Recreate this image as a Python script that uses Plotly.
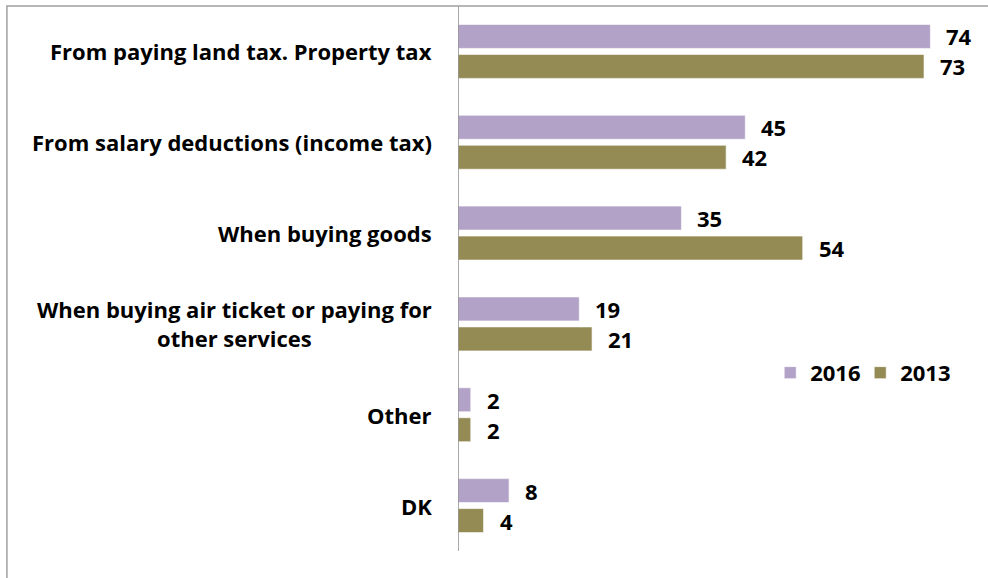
import plotly.graph_objects as go

categories = [
    "From paying land tax. Property tax",
    "From salary deductions (income tax)",
    "When buying goods",
    "When buying air ticket or paying for<br>other services",
    "Other",
    "DK",
]
values_2016 = [74, 45, 35, 19, 2, 8]
values_2013 = [73, 42, 54, 21, 2, 4]
series_names = ["2016", "2013"]

color_2016 = "#B3A2C7"
color_2013 = "#948A54"
font_family = "'Open Sans', sans-serif"
label_size = 22

W, H = 988, 578
left, top, bottom = 457.5, 5.5, 26.5
plot_w = W - left
plot_h = H - top - bottom

y_idx = list(range(len(categories)))

fig = go.Figure()
for name, vals, col in [(series_names[0], values_2016, color_2016),
                        (series_names[1], values_2013, color_2013)]:
    fig.add_trace(go.Bar(
        x=vals, y=y_idx, orientation="h", name=name,
        marker=dict(color=col, line=dict(color="rgba(255,255,255,0.6)", width=1)),
        hoverinfo="skip",
    ))

text_font = dict(family=font_family, size=label_size, color="#000000", weight="bold")

annotations = []
# category labels, multi-line centred
for i, cat in enumerate(categories):
    annotations.append(dict(
        x=(433 - left) / plot_w, xref="paper", y=i, yref="y",
        text=cat, showarrow=False, xanchor="right", yanchor="middle",
        align="center", font=text_font,
    ))

# value labels next to each bar
offset = 0.165
for vals, off in [(values_2016, -offset), (values_2013, offset)]:
    for i, v in enumerate(vals):
        annotations.append(dict(
            x=v, xref="x", y=i + off, yref="y", text=str(v),
            showarrow=False, xanchor="left", yanchor="middle", xshift=14,
            font=text_font,
        ))

fig.update_layout(
    width=W, height=H,
    margin=dict(l=left, r=0, t=top, b=bottom, pad=0),
    paper_bgcolor="white", plot_bgcolor="white",
    barmode="group", bargap=0.34, bargroupgap=0.2,
    showlegend=True,
    legend=dict(
        orientation="h", x=(770 - left) / plot_w, xanchor="left",
        y=(H - bottom - 373) / plot_h, yanchor="middle",
        font=text_font,
        entrywidth=45, entrywidthmode="pixels",
        bgcolor="rgba(0,0,0,0)", itemclick=False,
    ),
    xaxis=dict(range=[0, plot_w / 6.39], visible=False, fixedrange=True),
    yaxis=dict(
        range=[len(categories) - 0.5, -0.5], showticklabels=False,
        showgrid=False, zeroline=False, ticks="",
        showline=False, fixedrange=True,
    ),
    annotations=annotations,
    font=text_font,
)

# vertical axis line at x = 0
fig.add_shape(type="line", xref="x", yref="paper", x0=0, x1=0, y0=0, y1=1,
              line=dict(color="#8C8C8C", width=1.5))
# outer chart border (top and left edges visible)
fig.add_shape(type="rect", xref="paper", yref="paper",
              x0=(6 - left) / plot_w, x1=1.2, y0=-0.2, y1=1,
              line=dict(color="#A0A0A0", width=1.5), fillcolor="rgba(0,0,0,0)")

fig.write_html("out.html")
